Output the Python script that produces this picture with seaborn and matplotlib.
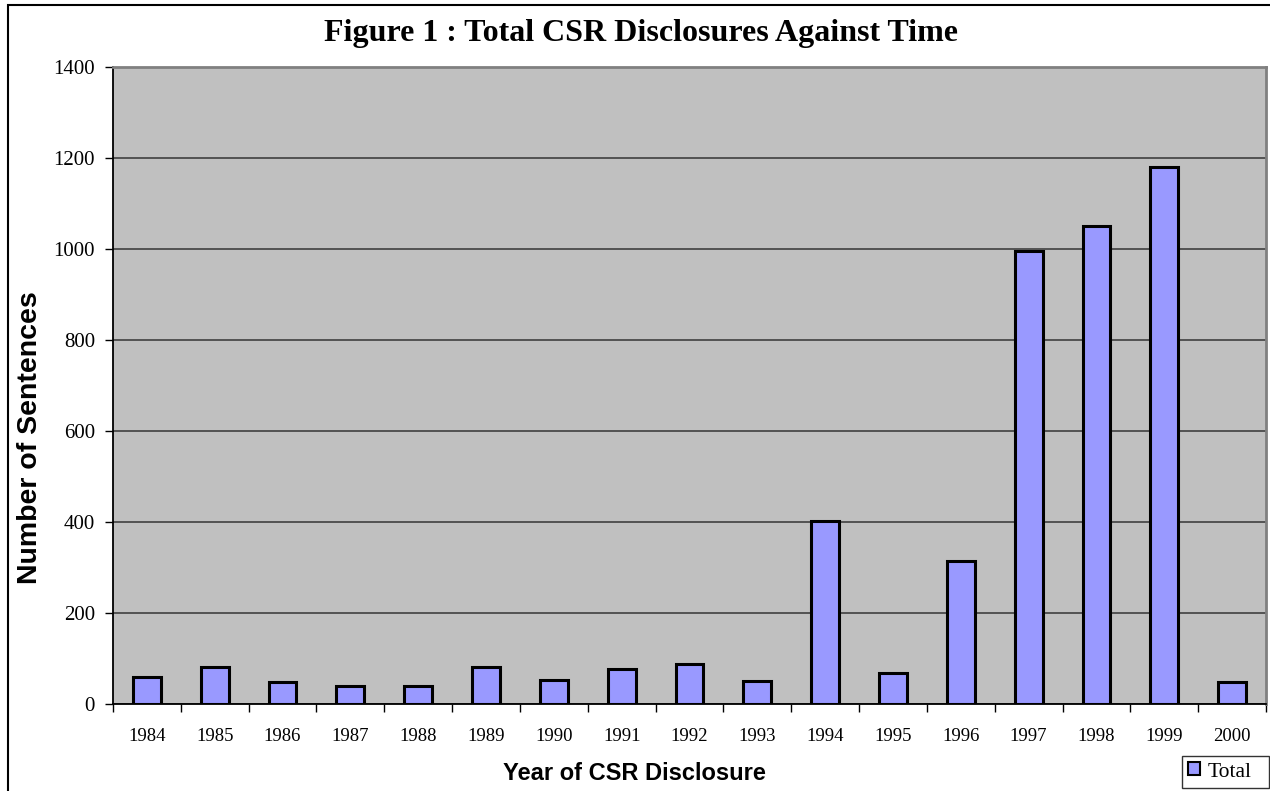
import matplotlib
matplotlib.use("Agg")
import matplotlib.pyplot as plt
import matplotlib.patches as mpatches
from matplotlib.ticker import FixedLocator
import seaborn as sns
import pandas as pd
import numpy as np

# Sentences of CSR disclosure per year
years = ["1984", "1985", "1986", "1987", "1988", "1989", "1990", "1991", "1992",
         "1993", "1994", "1995", "1996", "1997", "1998", "1999", "2000"]
totals = [60, 82, 48, 40, 40, 82, 53, 78, 89, 50, 402, 69, 315, 996, 1051, 1181, 48]
y_ticks = [0, 200, 400, 600, 800, 1000, 1200, 1400]

df = pd.DataFrame({"Year": years, "Total": totals})

sns.set_style("white")
plt.rcParams.update({"text.color": "black", "axes.labelcolor": "black",
                     "xtick.color": "black", "ytick.color": "black"})
serif = ["Liberation Serif", "DejaVu Serif"]
sans = ["Liberation Sans", "DejaVu Sans"]

W, H = 1270, 791
fig = plt.figure(figsize=(12.7, 7.91), dpi=100)
ax = fig.add_axes([113 / W, 1 - 704 / H, (1266 - 113) / W, (704 - 67) / H])

ax.set_facecolor("#C0C0C0")
sns.barplot(data=df, x="Year", y="Total", ax=ax, color="#9999FF",
            saturation=1, width=0.41, edgecolor="black", linewidth=2.2,
            zorder=3)

ax.set_ylim(0, 1400)
ax.set_xlim(-0.5, len(years) - 0.5)
ax.set_yticks(y_ticks)
ax.yaxis.grid(True, color="#4a4a4a", linewidth=1.3, zorder=1)
ax.set_axisbelow(True)

# Category boundaries carry the x tick marks; labels sit at the centres
ax.xaxis.set_minor_locator(FixedLocator(np.arange(-0.5, len(years), 1.0)))
ax.tick_params(axis="x", which="major", length=0, pad=17)
ax.tick_params(axis="x", which="minor", length=6, width=1, color="black",
               direction="out", bottom=True)
ax.tick_params(axis="y", which="major", length=6, width=1, color="black",
               direction="out", left=True, pad=7)

for lab in ax.get_xticklabels():
    lab.set_fontfamily(serif)
    lab.set_fontsize(13.5)
for lab in ax.get_yticklabels():
    lab.set_fontfamily(serif)
    lab.set_fontsize(15)

for side in ["left", "bottom"]:
    ax.spines[side].set_color("black")
    ax.spines[side].set_linewidth(1.3)
for side in ["top", "right"]:
    ax.spines[side].set_color("#808080")
    ax.spines[side].set_linewidth(2)

ax.set_xlabel("Year of CSR Disclosure", family=sans, fontsize=17,
              fontweight="bold")
ax.xaxis.set_label_coords((634 - 113) / 1153, (704 - 762) / 637)
ax.set_ylabel("Number of Sentences", family=sans, fontsize=20.5,
              fontweight="bold")
ax.yaxis.set_label_coords((43 - 113) / 1153, (704 - 438) / 637)

fig.text(641 / W, 1 - 34 / H, "Figure 1 : Total CSR Disclosures Against Time",
         ha="center", va="center", family=serif, fontsize=23, fontweight="bold")

handle = mpatches.Patch(facecolor="#9999FF", edgecolor="black", linewidth=1.5,
                        label="Total")
leg = fig.legend(handles=[handle], loc="lower left", mode="expand",
                 bbox_to_anchor=(1182 / W, 3 / H, 87 / W, 32 / H),
                 prop={"family": serif, "size": 15.5}, frameon=True,
                 fancybox=False, edgecolor="black", handlelength=0.55,
                 handleheight=0.55, handletextpad=0.35, borderpad=0.3,
                 borderaxespad=0)
leg.get_frame().set_linewidth(1.0)

# Outer chart border (left and top edges fall inside the canvas)
fig.patches.append(mpatches.Rectangle((8 / W, -0.05), 1.2, 1 - 5 / H + 0.05,
                                      transform=fig.transFigure, fill=False,
                                      edgecolor="black", linewidth=1.5))

fig.savefig("out.png", dpi=100, facecolor="white")
